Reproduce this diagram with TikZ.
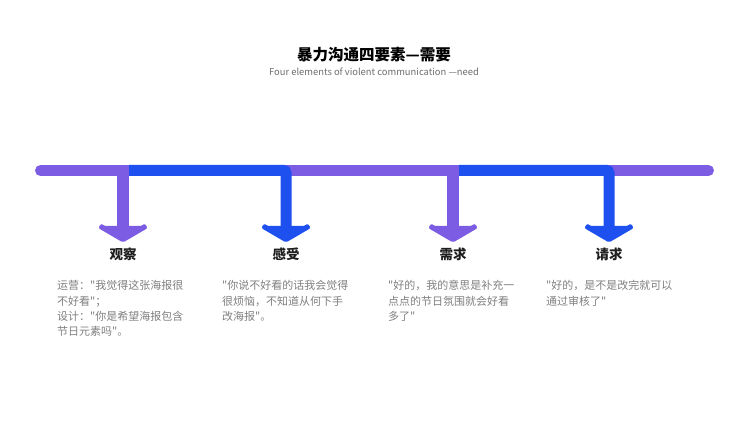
\documentclass[tikz,border=0pt]{standalone}
\usepackage{fontspec}
\newfontfamily\cjk{Noto Sans CJK SC}
\definecolor{pur}{RGB}{124,92,226}
\definecolor{blu}{RGB}{30,80,240}
\definecolor{txtg}{RGB}{128,128,128}
\definecolor{subg}{RGB}{110,110,110}
\definecolor{labk}{RGB}{30,30,30}
\tikzset{
  bar/.style={line width=11pt},
  stem/.style={line width=11.5pt},
  body/.style={anchor=base west, inner sep=0pt, text=txtg, font=\cjk\fontsize{11}{13}\selectfont},
  lab/.style={anchor=base, inner sep=0pt, text=labk, font=\cjk\bfseries\fontsize{13.5}{16}\selectfont},
}
\newcommand{\headshape}[2]{%
  \fill[#2, rounded corners=1.5pt] (#1-6,226) -- (#1-19,226) -- (#1-21.5,223.3) -- (#1-24.8,228) -- (#1,242.5)
     -- (#1+24.8,228) -- (#1+21.5,223.3) -- (#1+19,226) -- (#1+6,226) -- cycle;}
\begin{document}
\begin{tikzpicture}[x=1pt,y=-1pt]
\useasboundingbox (0,0) rectangle (750,422);
\fill[white] (0,0) rectangle (750,422);
% title
\node[anchor=base, inner sep=0pt, text=black, font=\cjk\bfseries\fontsize{15.5}{18}\selectfont] (title) at (374,61) {暴力沟通四要素—需要};
\node[anchor=base, inner sep=0pt, text=subg, font=\cjk\fontsize{9.4}{11}\selectfont] (sub) at (374,75.5) {Four elements of violent communication —need};
% timeline
\coordinate (L) at (40.5,170.5);
\coordinate (R) at (708.5,170.5);
\coordinate (a1) at (123,170.5);
\coordinate (a2) at (286,170.5);
\coordinate (a3) at (453,170.5);
\coordinate (a4) at (609,170.5);
\coordinate (b1) at (129,170.5);
\coordinate (b3) at (459,170.5);
\coordinate (h1) at (123,228);
\coordinate (h2) at (286,228);
\coordinate (h3) at (453,228);
\coordinate (h4) at (609,228);
\draw[bar, pur, line cap=round] (L) -- (R);
\draw[stem, pur] (a1) -- (h1);
\draw[stem, pur] (a3) -- (h3);
\draw[bar, blu, rounded corners=2.5pt] (b1) -- (a2) -- (h2);
\draw[bar, blu, rounded corners=2.5pt] (b3) -- (a4) -- (h4);
\headshape{123}{pur}
\headshape{286}{blu}
\headshape{453}{pur}
\headshape{609}{blu}
% labels
\node[lab] (l1) at (123,260) {观察};
\node[lab] (l2) at (286,260) {感受};
\node[lab] (l3) at (453,260) {需求};
\node[lab] (l4) at (609,260) {请求};
% body texts
\node[body] (t11) at (57,290) {运营："我觉得这张海报很};
\node[body] (t12) at (57,305.3) {不好看"；};
\node[body] (t13) at (57,320.6) {设计："你是希望海报包含};
\node[body] (t14) at (57,335.9) {节日元素吗"。};
\node[body] (t21) at (222,290) {"你说不好看的话我会觉得};
\node[body] (t22) at (222,305.3) {很烦恼，不知道从何下手};
\node[body] (t23) at (222,320.6) {改海报"。};
\node[body] (t31) at (388,290) {"好的，我的意思是补充一};
\node[body] (t32) at (388,305.3) {点点的节日氛围就会好看};
\node[body] (t33) at (388,320.6) {多了"};
\node[body] (t41) at (546,290) {"好的，是不是改完就可以};
\node[body] (t42) at (546,305.3) {通过审核了"};
\end{tikzpicture}
\end{document}
